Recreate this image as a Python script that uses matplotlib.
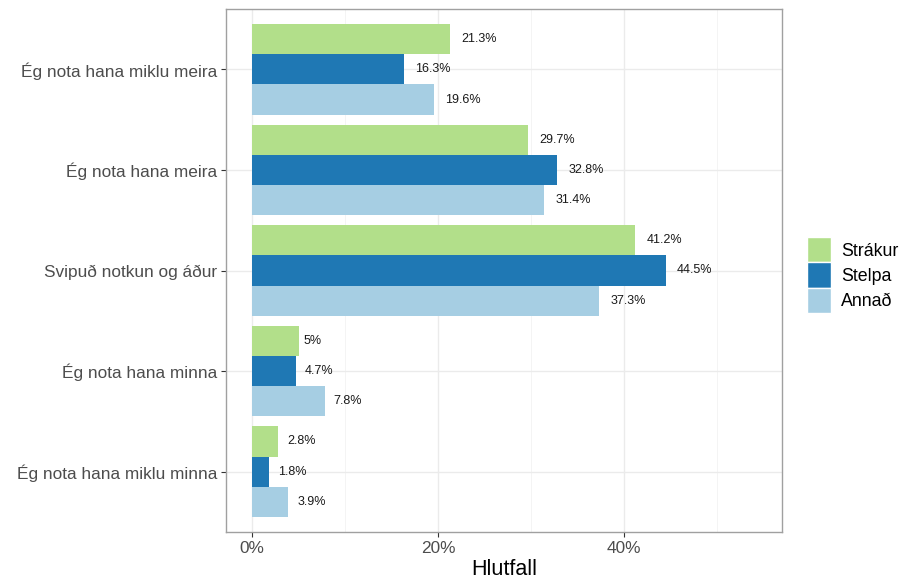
import matplotlib.pyplot as plt
import numpy as np
from matplotlib.patches import Patch
from matplotlib.ticker import FuncFormatter

plt.rcParams['font.family'] = ['Liberation Sans', 'DejaVu Sans']

flokkar = ["Ég nota hana miklu meira", "Ég nota hana meira", "Svipuð notkun og áður",
           "Ég nota hana minna", "Ég nota hana miklu minna"]
hopar = ["Strákur", "Stelpa", "Annað"]
litir = ["#b2df8a", "#1f78b4", "#a6cee3"]
strakur = [21.3, 29.7, 41.2, 5.0, 2.8]
stelpa = [16.3, 32.8, 44.5, 4.7, 1.8]
annad = [19.6, 31.4, 37.3, 7.8, 3.9]
gildi = [strakur, stelpa, annad]

fig = plt.figure(figsize=(9.05, 5.85), dpi=100)
ax = fig.add_axes([226 / 905, 1 - 532 / 585, 556 / 905, 523 / 585])

y = np.arange(len(flokkar))[::-1] + 1
h = 0.3
for i, (nafn, vals) in enumerate(zip(hopar, gildi)):
    pos = y + h - i * h
    ax.barh(pos, vals, height=h, color=litir[i], label=nafn, zorder=2)
    for p, v in zip(pos, vals):
        txt = f"{v:g}%"
        # ggplot hjust=-0.3: offset proportional to label width
        ax.annotate(txt, xy=(v, p), xytext=(0.3 * len(txt) * 5.4, 0),
                    textcoords="offset points", va="center", ha="left",
                    fontsize=9, color="#1a1a1a", zorder=3)

ax.set_xlim(-2.8, 57.0)
ax.set_ylim(0.4, 5.6)
ax.set_yticks(y)
ax.set_yticklabels(flokkar)
ax.set_xticks([0, 20, 40])
ax.set_xticks([10, 30, 50], minor=True)
ax.xaxis.set_major_formatter(FuncFormatter(lambda v, _: f"{v:.0f}%"))
ax.grid(True, which="major", color="#ebebeb", lw=1.0, zorder=0)
ax.grid(True, which="minor", axis="x", color="#f2f2f2", lw=0.6, zorder=0)
ax.tick_params(axis="both", which="major", length=3.5, color="#333333",
               labelsize=12.4, labelcolor="#4d4d4d", pad=3)
ax.tick_params(axis="x", which="minor", length=0)
ax.set_xlabel("Hlutfall", fontsize=15.5, color="black", labelpad=2)
for s in ax.spines.values():
    s.set_color("#a0a0a0")
    s.set_linewidth(1.0)

handles = [Patch(facecolor=c, edgecolor="white", label=n) for c, n in zip(litir, hopar)]
fig.legend(handles=handles, loc="center left", bbox_to_anchor=(807 / 905, 1 - 275 / 585),
           frameon=False, fontsize=12.8, handlelength=1.35, handleheight=1.8,
           handletextpad=0.55, labelspacing=0.0, borderaxespad=0, borderpad=0)

plt.savefig("out.png", dpi=100)
